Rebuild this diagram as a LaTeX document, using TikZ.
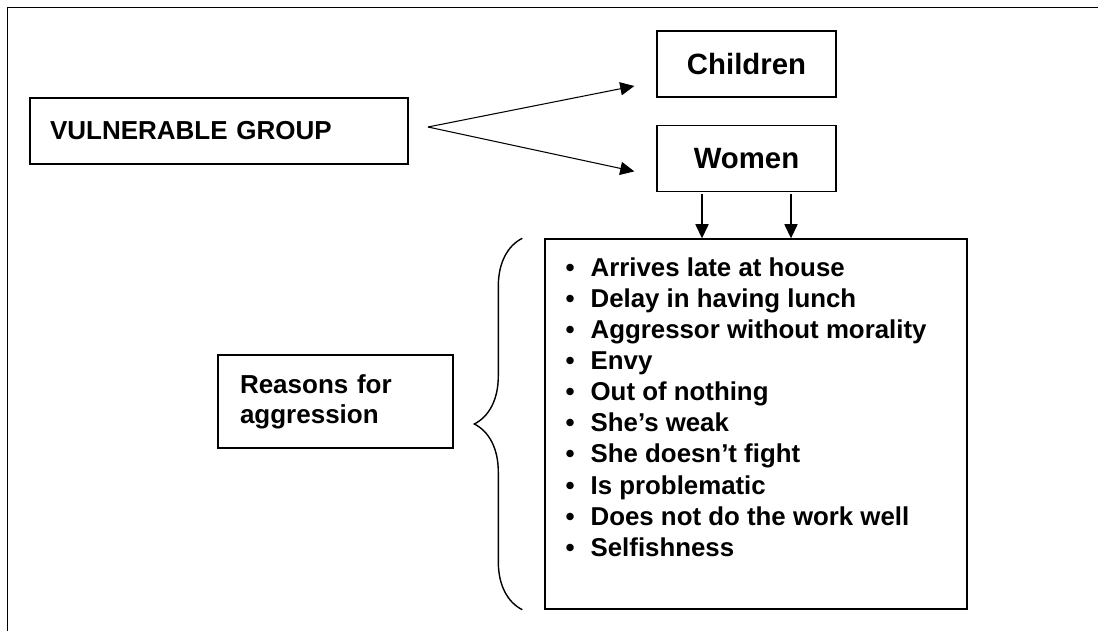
\documentclass[tikz,border=0pt]{standalone}
\usepackage{fontspec}
\setmainfont{Liberation Sans}
\usetikzlibrary{positioning,arrows.meta,decorations.pathreplacing}

\def\gap{.44cm}
\def\listdot{\makebox[.5cm][l]{\textbullet}}

\begin{document}
\begin{tikzpicture}[]
  \tikzset{box/.style={draw,line width=.8pt,font=\bfseries\fontsize{14.8}{17.2}\selectfont},
    group/.style={box,minimum width=3.58cm,minimum height=1.32cm,font=\bfseries\fontsize{16.7}{20}\selectfont},
    arrow/.style={-{Triangle[length=8pt,width=7.5pt]},line width=.6pt}}

  \useasboundingbox (0,0) rectangle (21.96,-12.62);
  \draw[line width=1pt] (.15,-12.62) -- (.15,-.15) -- (21.96,-.15);

  \node[box,minimum width=7.56cm,minimum height=1.32cm,text width=6.76cm,inner xsep=.4cm,align=left] at (4.38,-2.62) (vulnerable) {VULNERABLE GROUP};
  \node[group] at (14.93,-1.28) (children) {Children};
  \node[group] (women) [below=.54cm of children] {Women};

  \node[box,minimum width=8.44cm,minimum height=7.4cm] at (15.12,-8.48) (reasonlist) {};
  \node[anchor=north west,align=left,inner sep=0,font=\bfseries\fontsize{14.7}{17.7}\selectfont] at ([xshift=.42cm,yshift=-.38cm]reasonlist.north west) (items) {\listdot Arrives late at house\\
    \listdot Delay in having lunch\\
    \listdot Aggressor without morality\\
    \listdot Envy\\
    \listdot Out of nothing\\
    \listdot She’s weak\\
    \listdot She doesn’t fight\\
    \listdot Is problematic\\
    \listdot Does not do the work well\\
    \listdot Selfishness};
  \node[box,minimum width=4.7cm,minimum height=1.86cm,text width=3.82cm,inner xsep=.44cm,align=left] at (6.71,-8.03) (reasons) {Reasons for\\aggression};

  \coordinate (fork) at (8.56,-2.54);
  \draw[arrow] (fork) -- ([xshift=-\gap,yshift=-\gap]children.west);
  \draw[arrow] (fork) -- ([xshift=-\gap,yshift=-.26cm]women.west);
  \draw[arrow] ([xshift=-.89cm,yshift=-.04cm]women.south) -- ([xshift=-.89cm]women.south |- reasonlist.north);
  \draw[arrow] ([xshift=.89cm,yshift=-.04cm]women.south) -- ([xshift=.89cm]women.south |- reasonlist.north);
  \draw[decorate,decoration={brace,amplitude=.96cm},line width=.8pt] ([xshift=-\gap]reasonlist.south west) -- ([xshift=-\gap]reasonlist.north west);
\end{tikzpicture}
\end{document}
